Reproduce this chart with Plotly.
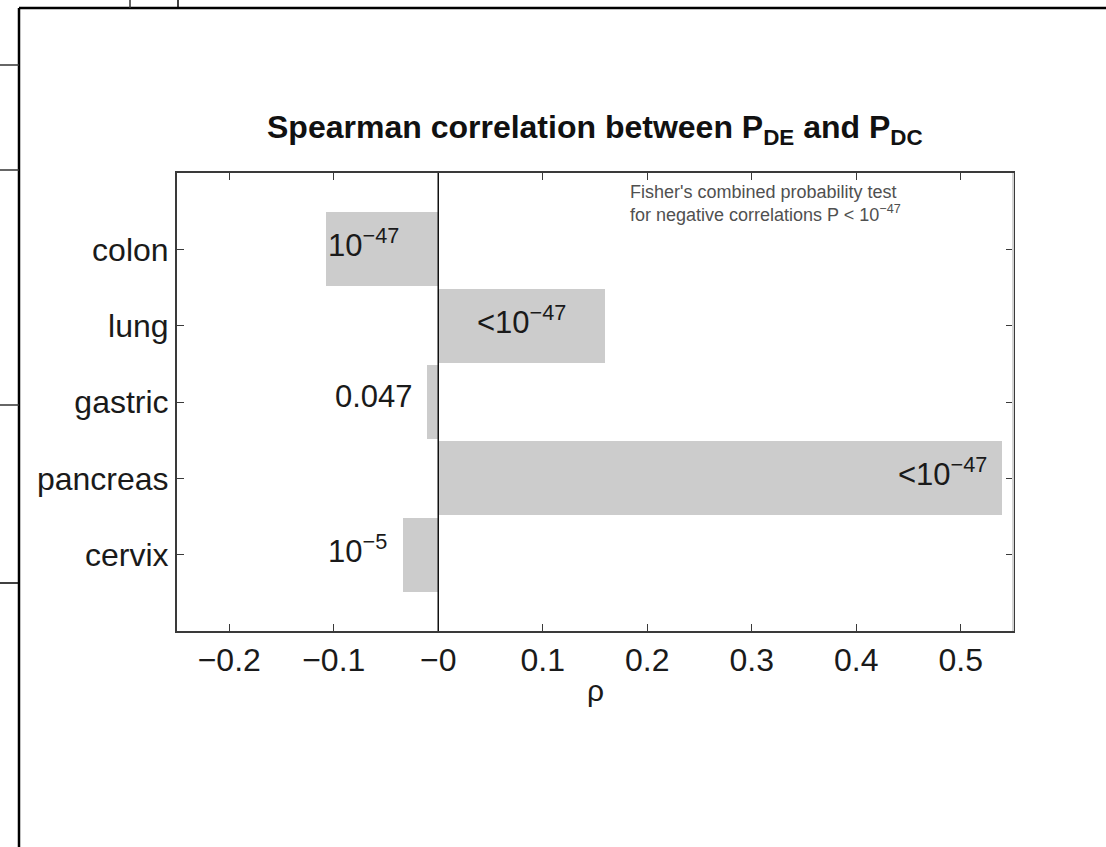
import plotly.graph_objects as go

# Spearman rho between P_DE and P_DC per tissue, with p-value labels
tissues = ["colon", "lung", "gastric", "pancreas", "cervix"]
rho = [-0.107, 0.160, -0.011, 0.539, -0.034]
pval_labels = ["10<sup>−47</sup>", "<10<sup>−47</sup>", "0.047", "<10<sup>−47</sup>", "10<sup>−5</sup>"]
xtick_vals = [-0.2, -0.1, 0, 0.1, 0.2, 0.3, 0.4, 0.5]
xtick_text = ["−0.2", "−0.1", "−0", "0.1", "0.2", "0.3", "0.4", "0.5"]

positions = list(range(1, len(tissues) + 1))
FONT = "Liberation Sans, Arial, Helvetica, sans-serif"
AXIS_COLOR = "#3a3a3a"
TEXT_COLOR = "#1a1a1a"

W, H = 1106, 847
L, R, T, B = 177, 93, 173, 216
pw, ph = W - L - R, H - T - B


def px(xp):
    return (xp - L) / pw


def py(yp):
    return (H - B - yp) / ph


fig = go.Figure()
fig.add_trace(go.Bar(
    y=positions, x=rho, orientation="h", width=0.97,
    marker=dict(color="#cccccc", line=dict(width=0)),
    hoverinfo="skip", showlegend=False,
))

# label placement per bar: (x anchor value, xanchor)
label_pos = [
    (rho[0], "left"),
    (rho[1] / 2, "center"),
    (-0.022, "right"),
    (0.527, "right"),
    (-0.107, "left"),
]
for (lx, anchor), pos, txt in zip(label_pos, positions, pval_labels):
    fig.add_annotation(x=lx, y=pos, xref="x", yref="y", text=txt, showarrow=False,
                       xanchor=anchor, yanchor="middle", yshift=6,
                       font=dict(family=FONT, size=31, color=TEXT_COLOR))

# vertical line at rho = 0
fig.add_shape(type="line", x0=0, x1=0, y0=0, y1=1, xref="x", yref="paper",
              line=dict(color="#111111", width=1.5), layer="above")
# lighter right edge of the axes box
fig.add_shape(type="line", x0=1, x1=1, y0=0, y1=1, xref="paper", yref="paper",
              line=dict(color="#d4d4d4", width=2), layer="above")

fig.add_annotation(x=0.5, y=py(130), xref="paper", yref="paper", showarrow=False,
                   text="<b>Spearman correlation between P<sub>DE</sub> and P<sub>DC</sub></b>",
                   xanchor="center", yanchor="middle",
                   font=dict(family=FONT, size=32, color="#111111"))
fig.add_annotation(x=px(628), y=py(192), xref="paper", yref="paper", showarrow=False,
                   text="Fisher's combined probability test",
                   xanchor="left", yanchor="middle", align="left",
                   font=dict(family=FONT, size=18, color="#505050"))
fig.add_annotation(x=px(628), y=py(213), xref="paper", yref="paper", showarrow=False,
                   text="for negative correlations P < 10<sup>−47</sup>",
                   xanchor="left", yanchor="middle", align="left",
                   font=dict(family=FONT, size=18, color="#505050"))
fig.add_annotation(x=0.5, y=py(690), xref="paper", yref="paper", showarrow=False,
                   text="ρ", xanchor="center", yanchor="middle",
                   font=dict(family=FONT, size=30, color=TEXT_COLOR))

fig.update_layout(
    width=W, height=H, autosize=False,
    margin=dict(l=L, r=R, t=T, b=B),
    paper_bgcolor="white", plot_bgcolor="white",
    bargap=0,
    xaxis=dict(range=[-0.25, 0.55], tickvals=xtick_vals, ticktext=xtick_text,
               ticks="inside", ticklen=7, tickcolor=AXIS_COLOR,
               showline=True, linecolor=AXIS_COLOR, linewidth=2, mirror="ticks",
               showgrid=False, zeroline=False,
               tickfont=dict(family=FONT, size=32, color=TEXT_COLOR)),
    yaxis=dict(range=[6, 0], tickvals=positions, ticktext=tissues,
               ticks="inside", ticklen=7, tickcolor=AXIS_COLOR,
               showline=True, linecolor=AXIS_COLOR, linewidth=2, mirror="ticks",
               showgrid=False, zeroline=False,
               tickfont=dict(family=FONT, size=32, color=TEXT_COLOR)),
)

# surrounding panel border lines, given in pixels
border = [
    (19, 8, 19, 847, "#000000", 2.5),
    (19, 8, 1106, 8, "#000000", 2.5),
    (0, 65, 19, 65, "#333333", 1.5),
    (0, 170, 19, 170, "#333333", 1.5),
    (0, 405, 19, 405, "#333333", 1.5),
    (0, 583, 19, 583, "#000000", 1.5),
    (130, 0, 130, 8, "#333333", 1.5),
    (178, 0, 178, 8, "#000000", 1.5),
]
for x0, y0, x1, y1, c, w in border:
    fig.add_shape(type="line", x0=px(x0), x1=px(x1), y0=py(y0), y1=py(y1),
                  xref="paper", yref="paper", line=dict(color=c, width=w))

fig.write_html("out.html")
